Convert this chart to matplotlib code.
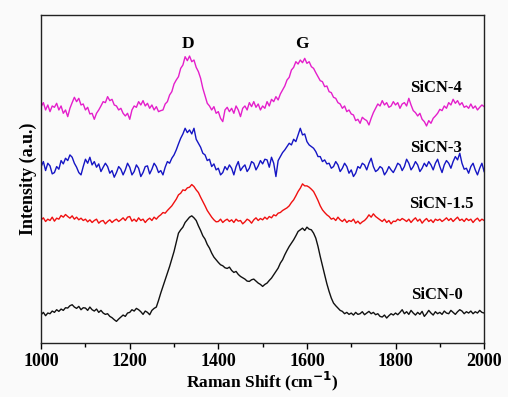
import numpy as np
import matplotlib
matplotlib.use("Agg")
import matplotlib.pyplot as plt

# Raman shift grid (cm-1), 5 cm-1 steps from 1000 to 2000
shift_start, shift_stop, shift_step = 1000, 2000, 5

# Intensities (arbitrary units, offset traces)
sicn4 = [
    710, 722, 700, 715, 695, 712, 708, 720, 700, 712, 690, 700, 680, 705, 722, 738, 725, 735, 715, 718,
    700, 708, 688, 690, 672, 690, 700, 712, 725, 722, 740, 728, 732, 715, 712, 700, 705, 690, 682, 690,
    672, 700, 712, 708, 725, 715, 728, 712, 720, 705, 715, 700, 710, 695, 698, 700, 718, 725, 745, 755,
    778, 790, 800, 825, 835, 860, 848, 862, 845, 850, 828, 815, 795, 765, 742, 720, 712, 700, 710, 690,
    695, 675, 665, 700, 708, 695, 705, 690, 712, 700, 680, 705, 712, 700, 722, 710, 725, 708, 718, 700,
    712, 705, 725, 712, 732, 725, 740, 730, 748, 760, 772, 790, 798, 820, 828, 845, 838, 850, 842, 855,
    840, 845, 830, 825, 812, 800, 788, 785, 770, 772, 755, 752, 738, 735, 722, 718, 705, 712, 695, 700,
    688, 685, 668, 672, 660, 678, 672, 668, 655, 675, 692, 705, 718, 712, 728, 715, 722, 708, 712, 725,
    715, 722, 705, 718, 722, 712, 735, 715, 698, 692, 682, 690, 672, 665, 652, 668, 660, 675, 682, 690,
    702, 698, 712, 705, 722, 715, 732, 720, 728, 715, 722, 708, 712, 705, 718, 705, 712, 700, 708, 715,
    710]

sicn3 = [
    530, 545, 518, 540, 532, 508, 512, 530, 522, 548, 538, 555, 548, 565, 558, 540, 528, 512, 505, 530,
    552, 540, 558, 535, 545, 528, 538, 515, 528, 540, 530, 510, 518, 498, 512, 530, 522, 505, 520, 540,
    528, 505, 515, 535, 525, 500, 512, 530, 532, 508, 522, 540, 530, 512, 518, 505, 528, 545, 540, 555,
    565, 580, 598, 615, 628, 645, 632, 640, 628, 645, 612, 600, 588, 570, 565, 548, 552, 530, 538, 520,
    525, 505, 512, 530, 520, 535, 525, 505, 530, 545, 518, 528, 535, 515, 525, 545, 540, 520, 532, 548,
    538, 552, 550, 528, 558, 540, 500, 548, 560, 572, 580, 590, 600, 595, 612, 605, 625, 645, 625, 628,
    605, 595, 590, 585, 575, 560, 560, 545, 550, 538, 540, 525, 530, 545, 535, 515, 525, 540, 530, 510,
    520, 500, 510, 530, 525, 540, 535, 520, 540, 555, 530, 515, 520, 530, 525, 505, 515, 530, 520, 512,
    525, 540, 535, 518, 530, 552, 540, 520, 530, 545, 535, 515, 525, 540, 530, 545, 535, 520, 540, 552,
    530, 512, 535, 548, 540, 525, 545, 560, 550, 570, 540, 522, 525, 510, 530, 540, 520, 505, 525, 540,
    515]

sicn15 = [
    370, 376, 365, 372, 368, 378, 366, 375, 372, 383, 378, 386, 380, 375, 382, 372, 378, 370, 375, 368,
    372, 364, 370, 362, 368, 372, 360, 366, 368, 358, 365, 370, 362, 368, 372, 365, 370, 376, 368, 378,
    380, 366, 372, 365, 376, 368, 372, 362, 370, 375, 368, 378, 372, 380, 385, 392, 390, 398, 405, 412,
    422, 432, 445, 450, 460, 458, 466, 468, 476, 470, 460, 452, 438, 425, 412, 398, 388, 378, 370, 364,
    365, 372, 362, 368, 372, 365, 370, 362, 372, 366, 368, 358, 364, 372, 368, 360, 370, 376, 368, 374,
    370, 378, 372, 380, 376, 385, 382, 390, 392, 398, 402, 406, 412, 422, 430, 442, 455, 465, 478, 472,
    472, 468, 462, 455, 442, 428, 412, 400, 392, 385, 380, 372, 375, 368, 378, 370, 365, 372, 362, 368,
    365, 372, 360, 366, 358, 364, 368, 375, 385, 378, 388, 380, 375, 370, 365, 372, 362, 368, 358, 366,
    365, 372, 368, 374, 370, 365, 372, 362, 370, 376, 366, 372, 360, 368, 374, 365, 370, 362, 372, 368,
    372, 365, 370, 376, 368, 374, 365, 372, 378, 368, 372, 365, 374, 368, 372, 362, 370, 375, 366, 372,
    368]

sicn0 = [
    85, 92, 82, 90, 88, 96, 92, 100, 95, 102, 98, 106, 105, 112, 115, 108, 104, 110, 100, 106,
    105, 98, 108, 100, 96, 102, 92, 98, 90, 86, 88, 80, 76, 70, 65, 72, 78, 84, 80, 90,
    92, 100, 96, 104, 100, 94, 86, 96, 92, 85, 98, 104, 108, 128, 150, 170, 190, 210, 230, 252,
    275, 302, 330, 340, 348, 362, 370, 378, 382, 376, 368, 352, 338, 322, 312, 296, 285, 270, 258, 250,
    242, 235, 232, 226, 224, 228, 218, 212, 215, 206, 200, 196, 192, 186, 185, 190, 192, 186, 180, 176,
    170, 176, 180, 188, 195, 205, 215, 225, 240, 250, 265, 278, 290, 300, 310, 322, 335, 340, 345, 338,
    348, 342, 340, 330, 315, 290, 260, 232, 205, 178, 155, 135, 120, 112, 105, 98, 95, 88, 92, 86,
    90, 84, 92, 86, 88, 94, 85, 90, 95, 88, 92, 85, 88, 80, 78, 84, 75, 82, 88, 84,
    90, 85, 92, 100, 88, 94, 86, 98, 90, 84, 92, 86, 95, 80, 88, 98, 90, 84, 94, 88,
    92, 86, 96, 90, 88, 98, 92, 86, 94, 100, 96, 88, 94, 90, 96, 88, 94, 90, 98, 92,
    90]

series_names = ["SiCN-4", "SiCN-3", "SiCN-1.5", "SiCN-0"]
series_data = [sicn4, sicn3, sicn15, sicn0]
series_colors = ["#e41fcb", "#1515c4", "#f01010", "#111111"]

peak_names = ["D", "G"]
peak_pos = [1332, 1589]

x_ticks = [1000, 1200, 1400, 1600, 1800, 2000]

plt.rcParams['font.family'] = ['Liberation Serif', 'DejaVu Serif']

fig = plt.figure(figsize=(5.08, 3.97), dpi=100, facecolor="#fafafa")
ax = fig.add_axes([0.081, 0.136, 0.872, 0.826])
ax.set_facecolor("#fafafa")

for name, vals, col in zip(series_names, series_data, series_colors):
    y = np.asarray(vals, dtype=float)
    x = np.arange(shift_start, shift_stop + shift_step, shift_step)[:len(y)]
    ax.plot(x, y, color=col, lw=1.0)

ax.set_xlim(1000, 2000)
ax.set_ylim(0, 985)
ax.set_xticks(x_ticks)
ax.set_xticks(np.arange(1100, 2000, 200), minor=True)
ax.set_yticks([])
ax.tick_params(axis='x', which='major', direction='out', length=4, width=1,
               labelsize=13, pad=3)
ax.tick_params(axis='x', which='minor', direction='out', length=3, width=1)
for lab in ax.get_xticklabels():
    lab.set_fontweight('bold')
for sp in ax.spines.values():
    sp.set_linewidth(1.0)
    sp.set_color("#222222")

ax.set_xlabel("Raman Shift (cm$^{\\mathbf{-1}}$)", fontsize=12.5, fontweight='bold', labelpad=0)
ax.set_ylabel("Intensity (a.u.)", fontsize=13, fontweight='bold', labelpad=3)

# peak labels
for nm, px in zip(peak_names, peak_pos):
    ax.text(px, 897, nm, ha='center', va='center', fontsize=12.5, fontweight='bold')

# series labels
label_x = [1892, 1892, 1903, 1894]
label_y = [765, 585, 417, 144]
for nm, lx, ly in zip(series_names, label_x, label_y):
    ax.text(lx, ly, nm, ha='center', va='center', fontsize=12, fontweight='bold')

fig.savefig("out.png", dpi=100, facecolor=fig.get_facecolor())
